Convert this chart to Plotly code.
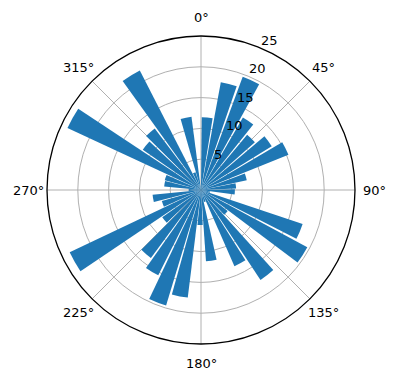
import math
import plotly.graph_objects as go

# wind-rose style data: bar direction (degrees, clockwise from north) and length
directions = [4.9, 14.7, 24.5, 34.3, 44.1, 54.0, 63.8, 73.6, 83.4, 93.2,
              103.0, 112.8, 122.6, 132.4, 142.2, 152.0, 161.9, 171.7, 181.5, 191.3,
              201.1, 210.9, 220.7, 230.5, 240.3, 250.1, 260.0, 269.8, 279.6, 289.4,
              299.2, 309.0, 318.8, 328.6, 338.5, 348.3]
lengths = [11.8, 17.8, 19.6, 13.6, 11.7, 13.5, 15.3, 7.6, 5.7, 5.5,
           1.5, 17.4, 19.6, 5.5, 17.5, 13.5, 2.0, 11.6, 5.7, 17.6,
           19.6, 15.5, 13.7, 7.7, 23.6, 6.6, 7.9, 2.0, 6.0, 6.1,
           23.9, 11.5, 12.5, 21.8, 3.0, 12.0]
bar_width_deg = 8.6

angle_ticks = [0, 45, 90, 135, 180, 225, 270, 315]
angle_labels = ["0°", "45°", "90°", "135°", "180°", "225°", "270°", "315°"]
radial_ticks = [5, 10, 15, 20, 25]
radial_label_angle = 22.5
r_max = 25

fig = go.Figure(go.Barpolar(
    theta=directions,
    r=lengths,
    width=[bar_width_deg] * len(directions),
    marker=dict(color="#1f77b4", line=dict(width=0)),
    opacity=1,
))

W, H = 396, 380
cx, cy, R = 201, 190, 154


def to_paper(px, py):
    return px / W, 1 - py / H


annotations = []
# angular tick labels, centered outside the circle
for a, t in zip(angle_ticks, angle_labels):
    rr = R + 19
    px = cx + rr * math.sin(math.radians(a))
    py = cy - rr * math.cos(math.radians(a))
    x, y = to_paper(px, py)
    annotations.append(dict(x=x, y=y, xref="paper", yref="paper", text=t,
                            showarrow=False, xanchor="center", yanchor="middle",
                            font=dict(size=13, color="black")))
# radial tick labels along 22.5 degrees
for v in radial_ticks:
    rr = R * v / r_max
    px = cx + rr * math.sin(math.radians(radial_label_angle))
    py = cy - rr * math.cos(math.radians(radial_label_angle))
    x, y = to_paper(px - 1, py + 2)
    annotations.append(dict(x=x, y=y, xref="paper", yref="paper", text=str(v),
                            showarrow=False, xanchor="left", yanchor="bottom",
                            font=dict(size=13, color="black")))

fig.update_layout(
    width=W, height=H,
    margin=dict(l=0, r=0, t=0, b=0),
    paper_bgcolor="white",
    showlegend=False,
    font=dict(family="DejaVu Sans", size=13, color="black"),
    annotations=annotations,
    polar=dict(
        domain=dict(x=[(cx - R) / W, (cx + R) / W],
                    y=[1 - (cy + R) / H, 1 - (cy - R) / H]),
        bgcolor="white",
        angularaxis=dict(
            rotation=90, direction="clockwise",
            tickmode="array", tickvals=angle_ticks, ticktext=angle_labels,
            showticklabels=False,
            showgrid=True, gridcolor="#b0b0b0", gridwidth=0.8,
            showline=True, linecolor="black", linewidth=1.3,
            ticks="",
        ),
        radialaxis=dict(
            range=[0, r_max], tickmode="array", tickvals=radial_ticks,
            angle=90 - radial_label_angle, showticklabels=False,
            showgrid=True, gridcolor="#b0b0b0", gridwidth=0.8,
            showline=False, ticks="",
        ),
    ),
)

fig.write_html("out.html")
